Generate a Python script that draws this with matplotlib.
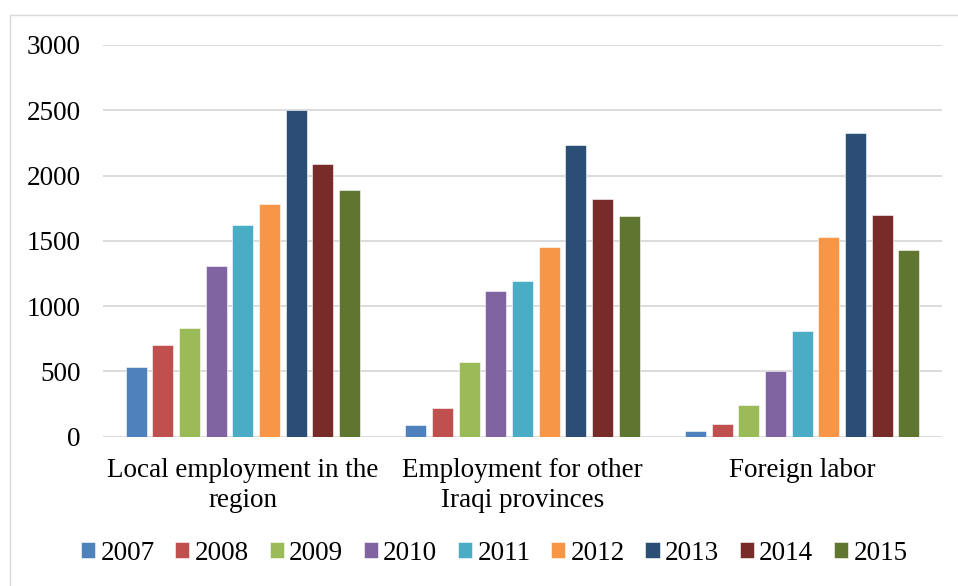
import matplotlib
matplotlib.use("Agg")
import matplotlib.pyplot as plt
from matplotlib.patches import Rectangle
import numpy as np

categories = ["Local employment in the\nregion",
              "Employment for other\nIraqi provinces",
              "Foreign labor"]
years = ["2007", "2008", "2009", "2010", "2011", "2012", "2013", "2014", "2015"]

local_region = [530, 700, 830, 1310, 1620, 1780, 2505, 2085, 1890]
other_provinces = [92, 217, 570, 1116, 1190, 1450, 2232, 1823, 1693]
foreign_labor = [41, 94, 240, 506, 810, 1532, 2326, 1696, 1430]

colors = ["#4F81BD", "#C0504D", "#9BBB59", "#8064A2", "#4BACC6",
          "#F79646", "#2C4D75", "#772C2A", "#5F7530"]

plt.rcParams["font.family"] = ["Liberation Serif", "DejaVu Serif"]
FS = 19.5

fig = plt.figure(figsize=(9.58, 5.86), dpi=100)
ax = fig.add_axes([103 / 958, 1 - 436.7 / 586, 839 / 958, (436.7 - 45) / 586])

values = np.array([local_region, other_provinces, foreign_labor])  # (category, year)
x = np.arange(len(categories))
step = 0.0954
bar_w = 0.0745
for i, (yr, col) in enumerate(zip(years, colors)):
    offs = (i - (len(years) - 1) / 2) * step
    ax.bar(x + offs, values[:, i], width=bar_w, color=col, edgecolor="white",
           linewidth=0.4, label=yr, zorder=3)

ax.set_xlim(-0.5, 2.5)
ax.set_ylim(0, 3000)
ax.set_yticks(np.arange(0, 3001, 500))
ax.yaxis.grid(True, color="#d9d9d9", linewidth=1.3, zorder=0)
ax.set_axisbelow(True)
for s in ax.spines.values():
    s.set_visible(False)
ax.tick_params(axis="both", length=0, labelsize=FS, colors="black")
ax.tick_params(axis="y", pad=16)
ax.tick_params(axis="x", pad=15)
ax.set_xticks(x)
ax.set_xticklabels(categories, linespacing=1.3)

# outer chart border
fig.patches.append(Rectangle((10 / 958, -0.05), 1.2, 1 - 15 / 586 + 0.05,
                             transform=fig.transFigure, fill=False,
                             edgecolor="#d9d9d9", linewidth=1.0))

fig.legend(loc="center", bbox_to_anchor=(0.516, 1 - 553 / 586), ncol=9,
           frameon=False, fontsize=FS, handlelength=0.52, handleheight=0.52,
           handletextpad=0.2, columnspacing=0.76, borderaxespad=0)

fig.savefig("out.png", dpi=100)
